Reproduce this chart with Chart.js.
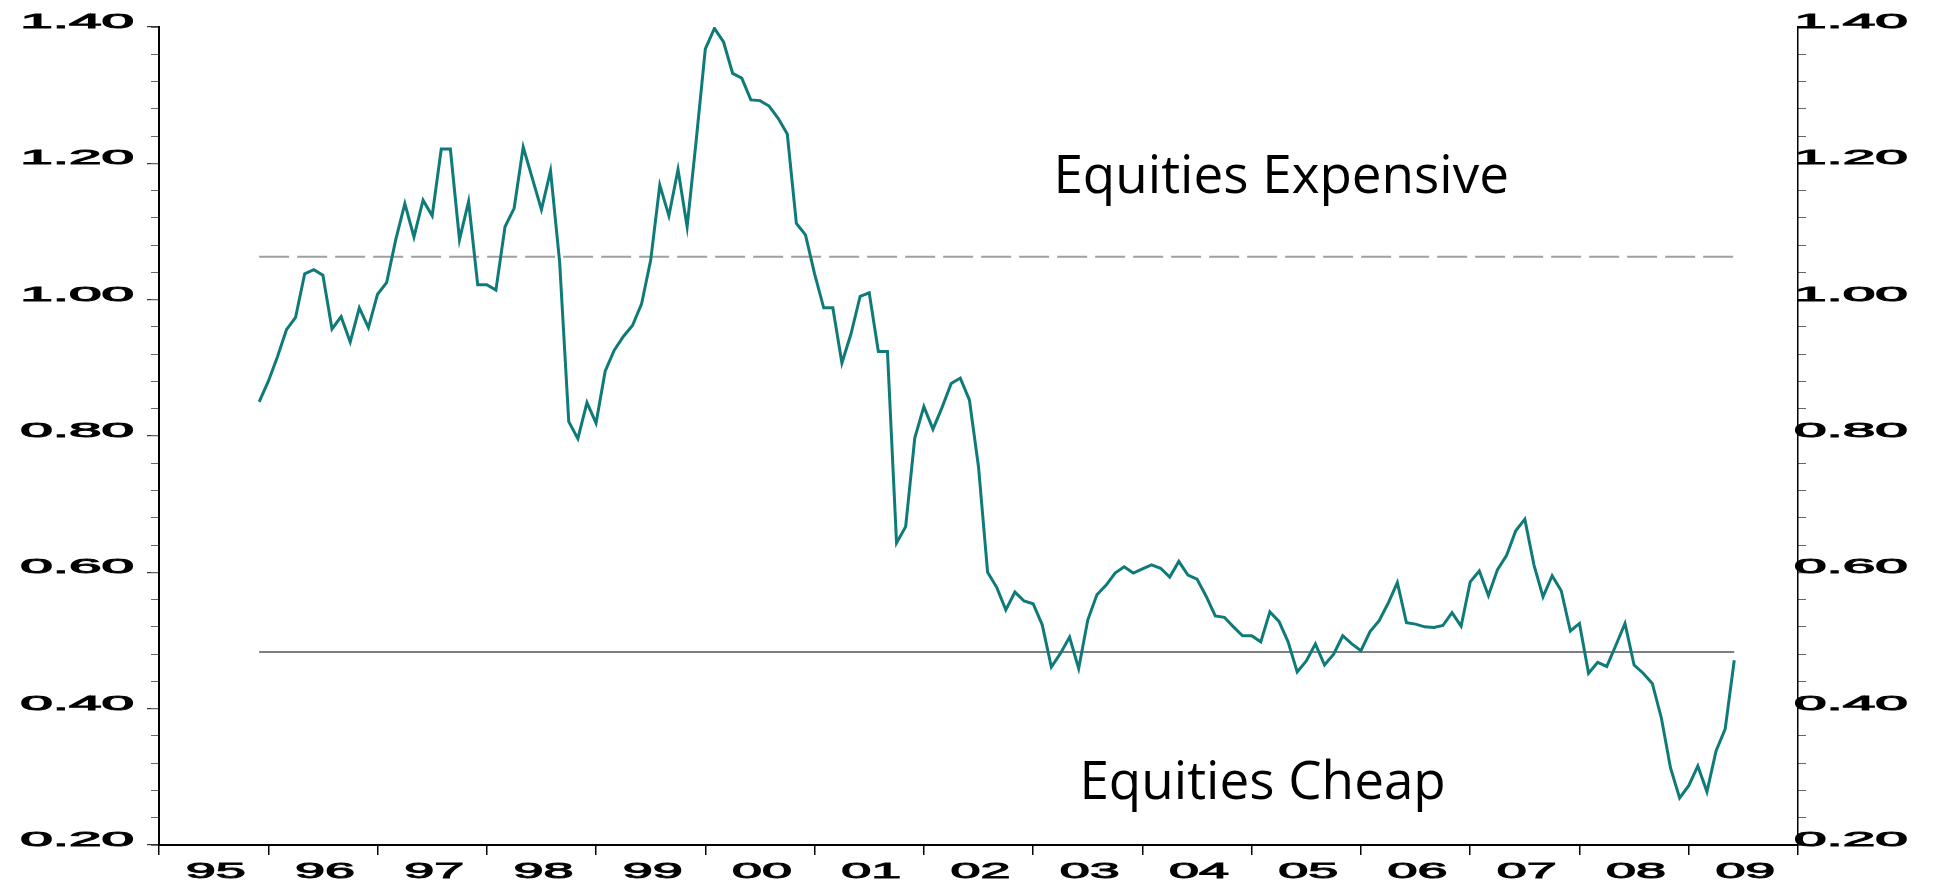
<!DOCTYPE html>
<html>
<head>
<meta charset="utf-8">
<script src="https://cdn.jsdelivr.net/npm/chart.js@4.4.1/dist/chart.umd.min.js"></script>
<style>
  html, body { margin: 0; padding: 0; background: #fff; }
  #wrap { width: 1933px; height: 882px; }
</style>
</head>
<body>
<div id="wrap"><canvas id="chart"></canvas></div>
<script>
// monthly series, Dec 1995 .. Jun 2009
const firstMonth = 1995 + 11 / 12;
const ratio = [
  0.850,
  0.880, 0.916, 0.956, 0.974, 1.038, 1.044, 1.036, 0.957, 0.975, 0.938, 0.988, 0.959, // 96
  1.008, 1.025, 1.088, 1.141, 1.092, 1.146, 1.123, 1.221, 1.221, 1.088, 1.144, 1.022, // 97
  1.022, 1.014, 1.107, 1.134, 1.224, 1.178, 1.132, 1.189, 1.055, 0.821, 0.796, 0.849, // 98
  0.819, 0.895, 0.926, 0.946, 0.962, 0.994, 1.058, 1.168, 1.123, 1.191, 1.107, 1.234, // 99
  1.368, 1.398, 1.378, 1.332, 1.325, 1.293, 1.292, 1.284, 1.266, 1.243, 1.112, 1.095, // 00
  1.038, 0.988, 0.988, 0.907, 0.950, 1.005, 1.010, 0.924, 0.924, 0.643, 0.667, 0.797, // 01
  0.843, 0.810, 0.842, 0.877, 0.885, 0.853, 0.755, 0.600, 0.578, 0.545, 0.571, 0.558, // 02
  0.554, 0.523, 0.461, 0.481, 0.505, 0.459, 0.530, 0.567, 0.581, 0.599, 0.608, 0.599, // 03
  0.605, 0.611, 0.606, 0.593, 0.616, 0.596, 0.590, 0.565, 0.536, 0.534, 0.520, 0.507, // 04
  0.507, 0.498, 0.542, 0.528, 0.498, 0.454, 0.470, 0.495, 0.464, 0.480, 0.507, 0.495, // 05
  0.485, 0.513, 0.529, 0.555, 0.585, 0.526, 0.524, 0.520, 0.519, 0.522, 0.541, 0.521, // 06
  0.586, 0.602, 0.566, 0.604, 0.625, 0.661, 0.678, 0.611, 0.564, 0.595, 0.573, 0.514, // 07
  0.525, 0.452, 0.468, 0.462, 0.493, 0.525, 0.464, 0.452, 0.437, 0.386, 0.313, 0.269, // 08
  0.287, 0.316, 0.278, 0.338, 0.370, 0.471                                            // 09
];
const expensiveLevel = 1.063;
const cheapLevel = 0.483;

const yearStarts = [1995, 1996, 1997, 1998, 1999, 2000, 2001, 2002, 2003, 2004, 2005, 2006, 2007, 2008, 2009, 2010];
const yearLabels = ["95", "96", "97", "98", "99", "00", "01", "02", "03", "04", "05", "06", "07", "08", "09"];
const yTickValues = [0.2, 0.4, 0.6, 0.8, 1.0, 1.2, 1.4];
const yTickLabels = ["0.20", "0.40", "0.60", "0.80", "1.00", "1.20", "1.40"];
const notes = [
  { text: "Equities Expensive", x: 2005.27, y: 1.156 },
  { text: "Equities Cheap", x: 2005.1, y: 0.268 }
];

const points = ratio.map((v, i) => ({ x: firstMonth + i / 12, y: v }));
const lastX = points[points.length - 1].x;
const minorValues = [];
for (let i = 0; i <= 30; i++) minorValues.push(+(0.2 + i * 0.04).toFixed(2));

// axis fonts are very wide in the original, so squash text horizontally
function drawStretched(ctx, text, x, y, sx, align) {
  ctx.save();
  ctx.translate(x, y);
  ctx.scale(sx, 1);
  ctx.textAlign = align;
  ctx.lineWidth = 0.9;
  ctx.strokeStyle = "#000";
  ctx.fillText(text, 0, 0);
  ctx.strokeText(text, 0, 0);
  ctx.restore();
}

const labelPlugin = {
  id: "labelPlugin",
  afterDraw(chart) {
    const ctx = chart.ctx;
    const x = chart.scales.x, y = chart.scales.y, y2 = chart.scales.y2;
    ctx.save();
    ctx.fillStyle = "#000";
    ctx.textBaseline = "alphabetic";
    ctx.font = '19.5px "Liberation Sans"';
    yTickValues.forEach((v, i) => {
      const py = y.getPixelForValue(v);
      drawStretched(ctx, yTickLabels[i], y.right - 25, py + 1, 3.0, "right");
      drawStretched(ctx, yTickLabels[i], y2.left - 4, py + 1, 3.0, "left");
    });
    ctx.font = '22px "Liberation Sans"';
    yearLabels.forEach((lab, i) => {
      const px = x.getPixelForValue(yearStarts[i] + 0.5);
      drawStretched(ctx, lab, px + 2, x.top + 33, 2.45, "center");
    });
    ctx.font = '53px "Open Sans"';
    ctx.textAlign = "center";
    notes.forEach(n => ctx.fillText(n.text, x.getPixelForValue(n.x), y.getPixelForValue(n.y)));
    ctx.restore();
  }
};

const minorAxis = (pos, w) => ({
  position: pos, min: 0.2, max: 1.4, weight: 0,
  afterBuildTicks: s => { s.ticks = minorValues.map(v => ({ value: v })); },
  ticks: { display: false },
  grid: { drawOnChartArea: false, tickLength: 8, color: "#666", lineWidth: 1 },
  border: { display: false },
  afterFit: s => { s.width = w; }
});
const majorAxis = (pos, w, bw) => ({
  position: pos, min: 0.2, max: 1.4, weight: 1,
  afterBuildTicks: s => { s.ticks = yTickValues.map(v => ({ value: v })); },
  ticks: { display: false },
  grid: { drawOnChartArea: false, tickLength: 12, color: "#333", lineWidth: 1.2 },
  border: { color: "#000", width: bw },
  afterFit: s => { s.width = w; }
});

new Chart(document.getElementById("chart"), {
  type: "line",
  data: {
    datasets: [
      {
        data: points,
        borderColor: "#0f7b79",
        borderWidth: 3,
        pointRadius: 0,
        tension: 0,
        yAxisID: "y"
      },
      {
        data: [{ x: firstMonth, y: expensiveLevel }, { x: lastX, y: expensiveLevel }],
        borderColor: "#a0a0a0",
        borderWidth: 2,
        borderDash: [30, 8],
        pointRadius: 0,
        yAxisID: "y"
      },
      {
        data: [{ x: firstMonth, y: cheapLevel }, { x: lastX, y: cheapLevel }],
        borderColor: "#555",
        borderWidth: 1.5,
        pointRadius: 0,
        yAxisID: "y"
      }
    ]
  },
  options: {
    responsive: true,
    maintainAspectRatio: false,
    animation: false,
    devicePixelRatio: 1,
    layout: { padding: { top: 27, left: 0, right: 0, bottom: 0 } },
    plugins: { legend: { display: false }, tooltip: { enabled: false } },
    scales: {
      x: {
        type: "linear", min: 1995, max: 2010, position: "bottom",
        afterBuildTicks: s => { s.ticks = yearStarts.map(v => ({ value: v })); },
        ticks: { display: false },
        grid: { drawOnChartArea: false, tickLength: 10, color: "#000", lineWidth: 1.5 },
        border: { color: "#000", width: 2 },
        afterFit: s => { s.height = 37; }
      },
      y: majorAxis("left", 159, 2),
      yMinor: minorAxis("left", 0),
      y2: majorAxis("right", 135, 1.5),
      y2Minor: minorAxis("right", 0)
    }
  },
  plugins: [labelPlugin]
});
</script>
</body>
</html>
